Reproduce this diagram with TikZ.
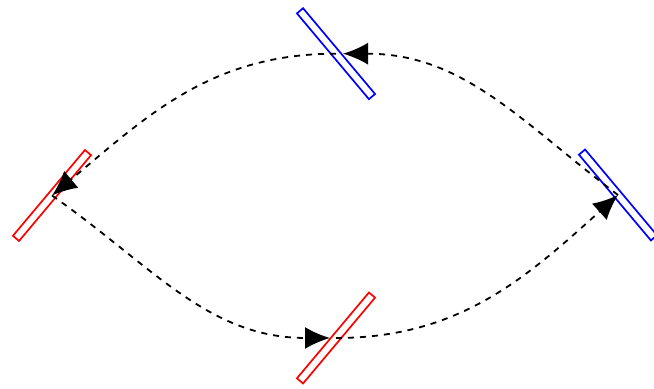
\documentclass[tikz,border=0pt]{standalone}
\usetikzlibrary{arrows.meta}

\begin{document}
\begin{tikzpicture}[x=0.5pt,y=0.5pt,
    espelho/.style={draw,line width=0.85pt,minimum width=56pt,minimum height=4pt,inner sep=0pt},
    raio/.style={dashed,line width=0.9pt,-{Latex[length=12.5pt,width=11pt]}}]
  \useasboundingbox (0,0) rectangle (654,389);
  \node[espelho,red,rotate=50] (mL) at (52,193.5) {};
  \node[espelho,blue,rotate=-50] (mT) at (336,335.3) {};
  \node[espelho,blue,rotate=-50] (mR) at (618,194) {};
  \node[espelho,red,rotate=50] (mB) at (336,51) {};
  \draw[raio] (mL.center) to[out=-35,in=180] ([xshift=-3pt]mB.center);
  \draw[raio] (mB.center) to[out=0,in=-138] (mR.center);
  \draw[raio] (mR.center) to[out=143,in=0] ([xshift=3.5pt]mT.center);
  \draw[raio] (mT.center) to[out=180,in=40] (mL.center);
\end{tikzpicture}
\end{document}
